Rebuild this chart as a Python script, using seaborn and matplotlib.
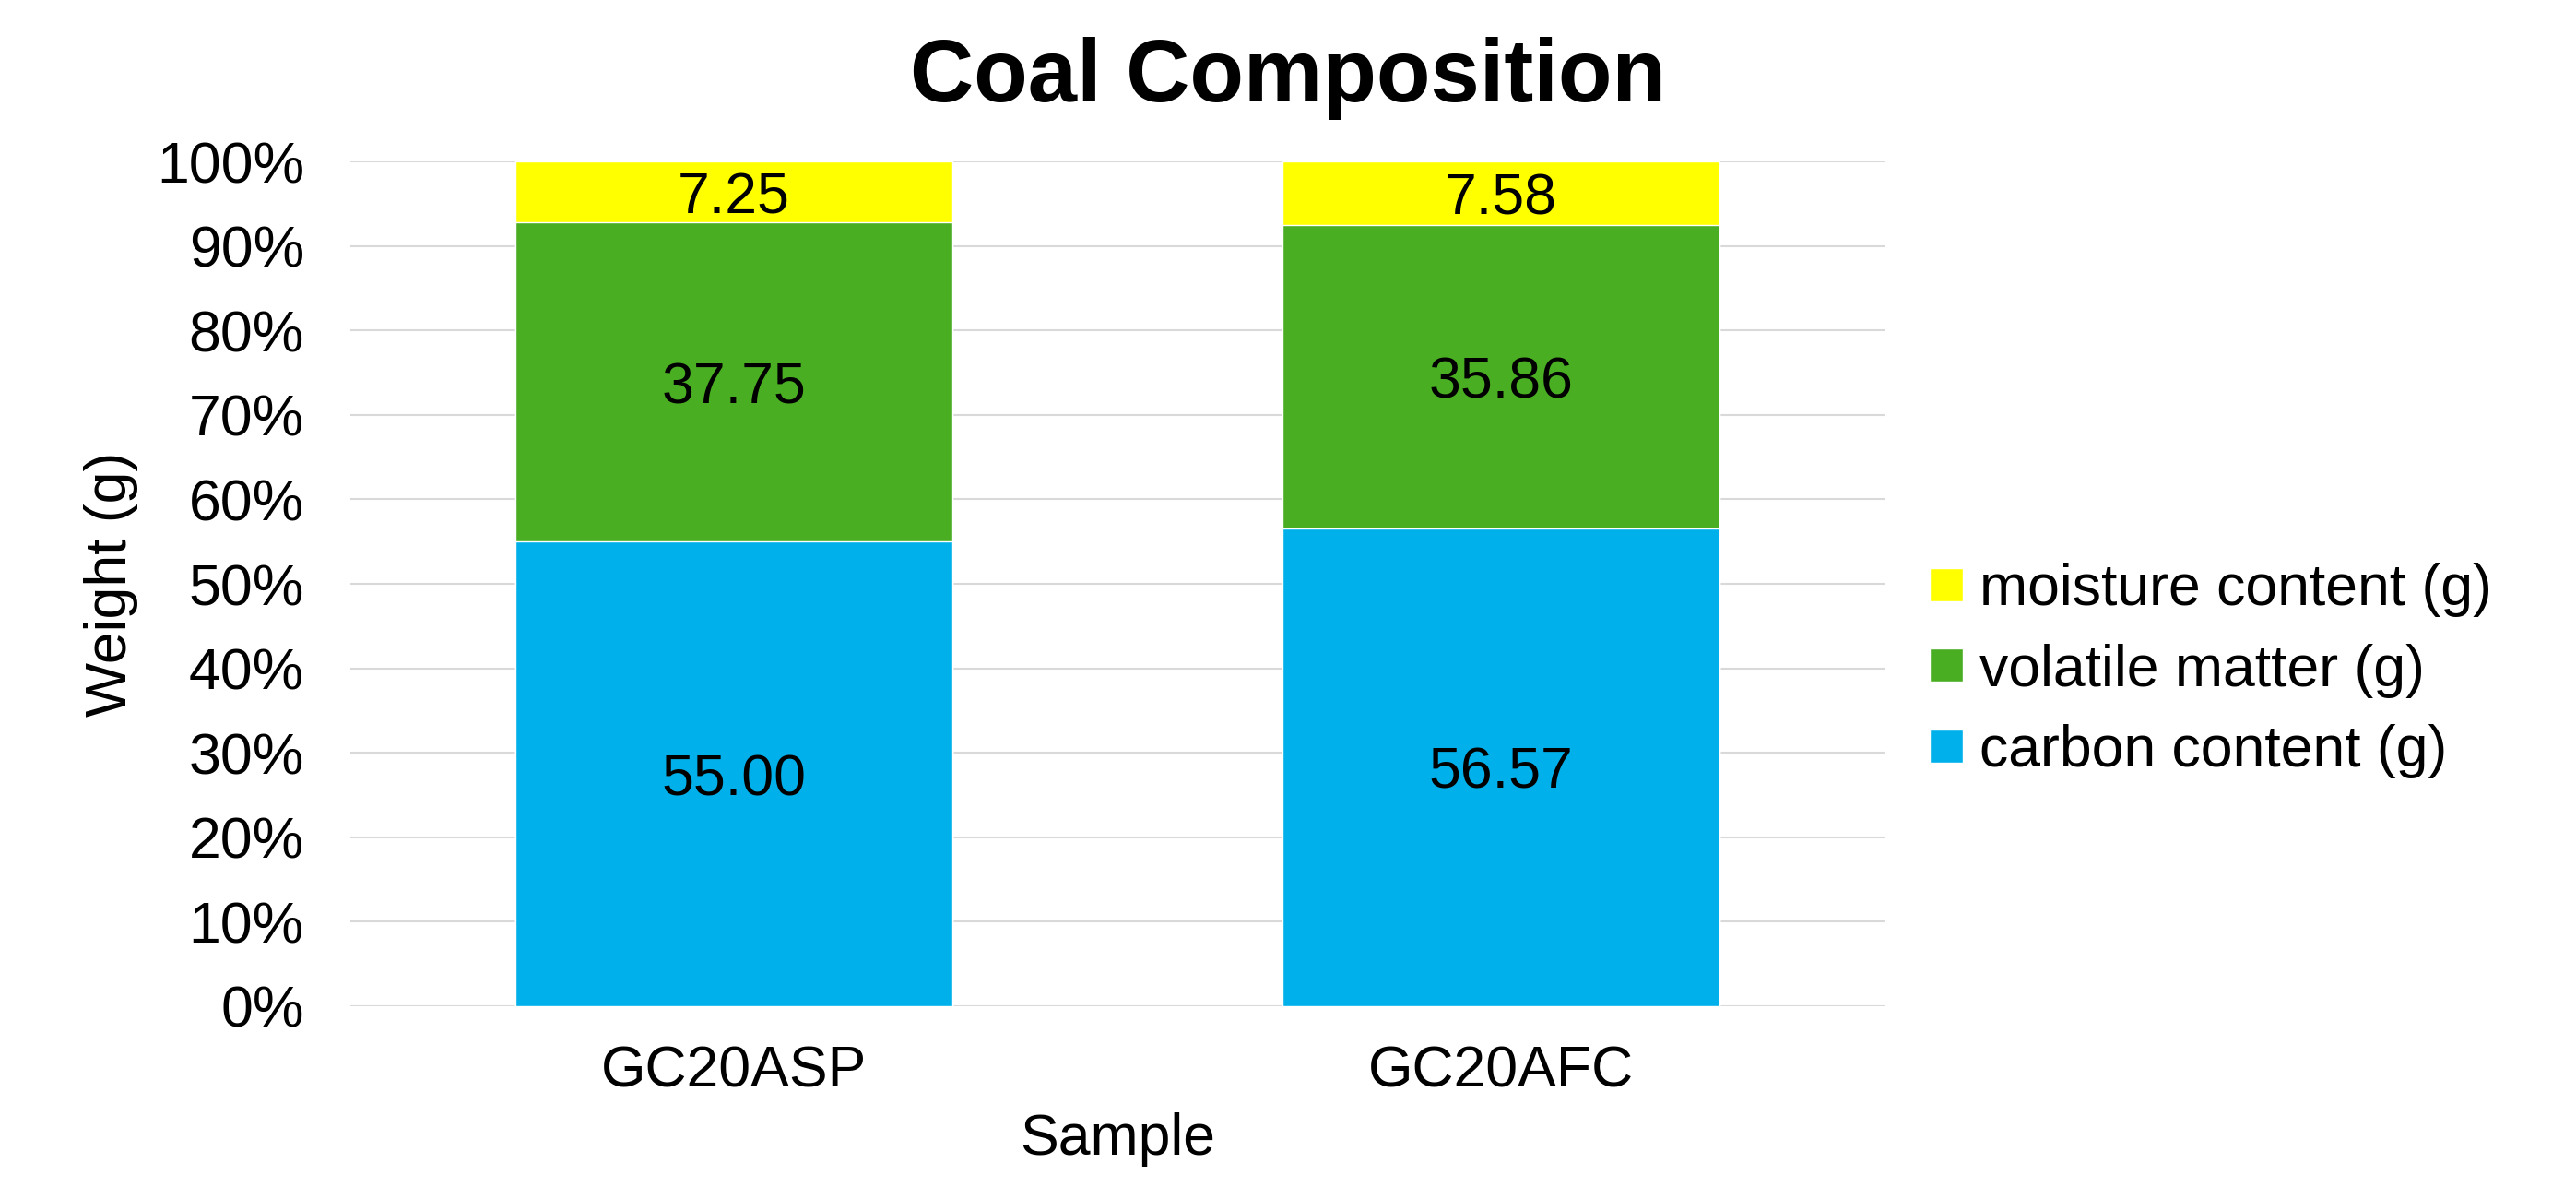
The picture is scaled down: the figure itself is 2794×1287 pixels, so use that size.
#!/usr/bin/env python3

import matplotlib

matplotlib.use("Agg")
import matplotlib.pyplot as plt
import pandas as pd
import seaborn as sns
from matplotlib.ticker import PercentFormatter

OUTPUT = "out.png"

samples = ["GC20ASP", "GC20AFC"]
carbon = [55.00, 56.57]
volatile = [37.75, 35.86]
moisture = [7.25, 7.58]

series_names = ["carbon content (g)", "volatile matter (g)", "moisture content (g)"]
series_colors = ["#00B0EA", "#4AAE23", "#FFFF00"]


def plot_composition(df: pd.DataFrame):
    fig, ax = plt.subplots(figsize=(27.94, 12.87), dpi=100)
    fig.subplots_adjust(left=0.136, right=0.7316, top=0.864, bottom=0.1523)

    cols = series_names
    total = df[cols].sum(axis=1)
    pct = df[cols].div(total, axis=0) * 100
    cum = pct.cumsum(axis=1)

    # draw cumulative totals, tallest first, so they stack visually
    for name, color in reversed(list(zip(cols, series_colors))):
        sns.barplot(
            x=df["Sample"],
            y=cum[name],
            color=color,
            width=0.57,
            label=name,
            ax=ax,
            zorder=2,
            saturation=1,
        )

    for i in range(len(df)):
        base = 0
        for name in cols:
            h = pct.loc[i, name]
            ax.text(i, base + h / 2, f"{df.loc[i, name]:.2f}",
                    ha="center", va="center_baseline", fontsize=45,
                    color="black", zorder=3)
            base += h

    ax.set_ylim(0, 100)
    ax.set_yticks(range(0, 101, 10))
    ax.yaxis.set_major_formatter(PercentFormatter(decimals=0))
    ax.grid(axis="y", color="#D9D9D9", linewidth=1.5, zorder=0)
    ax.set_axisbelow(True)
    for s in ax.spines.values():
        s.set_visible(False)
    ax.tick_params(axis="both", length=0, labelsize=45, labelcolor="black")
    ax.tick_params(axis="y", pad=36)
    ax.tick_params(axis="x", pad=30)

    ax.set_xlabel("Sample", fontsize=45, labelpad=10, color="black")
    ax.set_ylabel("Weight (g)", fontsize=45, labelpad=14, color="black")

    fig.suptitle("Coal Composition", fontsize=69, fontweight="bold",
                 x=0.5, y=0.9145, va="baseline", color="black")

    ax.legend(
        loc="center left",
        bbox_to_anchor=(0.7492, 0.435),
        bbox_transform=fig.transFigure,
        frameon=False,
        fontsize=45,
        labelcolor="black",
        handlelength=0.57,
        handleheight=0.51,
        handletextpad=0.29,
        labelspacing=0.46,
        borderpad=0,
        borderaxespad=0,
    )

    fig.savefig(OUTPUT, dpi=100)


def main():
    sns.set_theme(style="white")
    plt.rcParams["font.family"] = ["Liberation Sans", "DejaVu Sans"]
    plt.rcParams["text.color"] = "black"

    df = pd.DataFrame({
        "Sample": samples,
        series_names[0]: carbon,
        series_names[1]: volatile,
        series_names[2]: moisture,
    })
    plot_composition(df)


if __name__ == "__main__":
    main()
